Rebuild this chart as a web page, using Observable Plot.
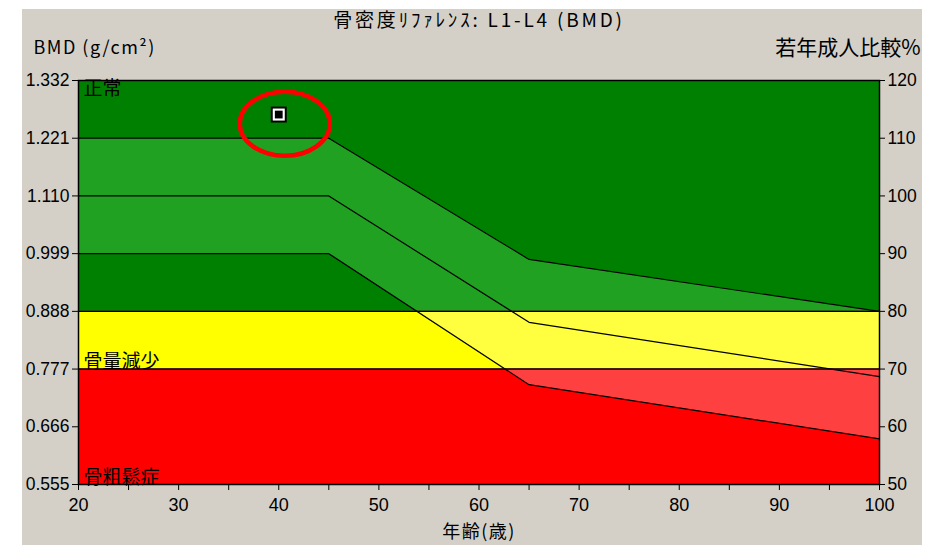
<!DOCTYPE html>
<html>
<head>
<meta charset="utf-8">
<script src="https://cdn.jsdelivr.net/npm/d3@7"></script>
<script src="https://cdn.jsdelivr.net/npm/@observablehq/plot@0.6"></script>
<style>
  html, body { margin: 0; padding: 0; background: #ffffff; }
  #wrap { position: relative; width: 935px; height: 545px; overflow: hidden; }
  #panel { position: absolute; left: 22px; top: 9px; width: 900px; height: 536px; background: #d4d0c8; }
  #chart { position: absolute; left: 0; top: 0; }
</style>
</head>
<body>
<div id="wrap"><div id="panel"></div><div id="chart"></div></div>
<script>
// ---- data ----
const titleText = "骨密度ﾘﾌｧﾚﾝｽ: L1-L4 (BMD)";
const leftLabel = "BMD (g/cm²)";
const rightLabel = "若年成人比較%";
const xLabel = "年齢(歳)";

const ages      = [20, 45, 65, 100];
const upperPct  = [110, 110, 89, 80];
const meanPct   = [100, 100, 78.1, 68.7];
const lowerPct  = [90, 90, 67.3, 57.9];

const zoneNames = ["正常", "骨量減少", "骨粗鬆症"];
const zoneLow   = [80, 70, 50];
const zoneHigh  = [120, 80, 70];
const zoneDark  = ["#008000", "#ffff00", "#ff0000"];
const zoneLight = ["#21a121", "#ffff40", "#ff4040"];
const zoneLines = [80, 70];

const pctTicks  = [50, 60, 70, 80, 90, 100, 110, 120];
const bmdTicks  = ["0.555", "0.666", "0.777", "0.888", "0.999", "1.110", "1.221", "1.332"];
const xTicks    = [20, 30, 40, 50, 60, 70, 80, 90, 100];
const xMinor    = [25, 35, 45, 55, 65, 75, 85, 95];

const patientAge = [40];
const patientPct = [114.1];
const highlightAge = [40.6];
const highlightPct = [112.5];

// ---- tables ----
const band = ages.map((a, i) => ({age: a, upper: upperPct[i], mean: meanPct[i], lower: lowerPct[i]}));
const zones = zoneNames.map((n, i) => ({name: n, lo: zoneLow[i], hi: zoneHigh[i], dark: zoneDark[i], light: zoneLight[i]}));
const patient = patientAge.map((a, i) => ({age: a, pct: patientPct[i]}));
const highlight = highlightAge.map((a, i) => ({age: a, pct: highlightPct[i]}));

const ellipseSymbol = {
  draw(ctx) {
    const rx = 45, ry = 32, k = 0.5523;
    ctx.moveTo(rx, 0);
    ctx.bezierCurveTo(rx, ry * k, rx * k, ry, 0, ry);
    ctx.bezierCurveTo(-rx * k, ry, -rx, ry * k, -rx, 0);
    ctx.bezierCurveTo(-rx, -ry * k, -rx * k, -ry, 0, -ry);
    ctx.bezierCurveTo(rx * k, -ry, rx, -ry * k, rx, 0);
    ctx.closePath();
  }
};

const jp = "'Noto Sans CJK JP', 'Noto Sans', sans-serif";

const marks = [];
zones.forEach(z => marks.push(Plot.rect([z], {y1: "lo", y2: "hi", fill: z.dark})));
zones.forEach((z, i) => marks.push(Plot.areaY(band, {x: "age", y1: "lower", y2: "upper", fill: z.light, ariaDescription: "band-" + i})));
marks.push(Plot.line(band, {x: "age", y: "upper", stroke: "black", strokeWidth: 1.2}));
marks.push(Plot.line(band, {x: "age", y: "mean", stroke: "black", strokeWidth: 1.2}));
marks.push(Plot.line(band, {x: "age", y: "lower", stroke: "black", strokeWidth: 1.2}));
marks.push(Plot.ruleY(zoneLines, {stroke: "black", strokeWidth: 1.5}));
marks.push(Plot.frame({stroke: "black", strokeWidth: 1.5}));
marks.push(Plot.axisX({ticks: xTicks, tickSize: 6, tickPadding: 8, label: null, fontSize: 18}));
marks.push(Plot.axisX({ticks: xMinor, tickSize: 6, tickFormat: () => "", label: null}));
marks.push(Plot.axisY({anchor: "left", ticks: pctTicks, tickSize: 6, tickPadding: 3, tickFormat: d => bmdTicks[pctTicks.indexOf(d)], label: null, fontSize: 17.5}));
marks.push(Plot.axisY({anchor: "right", ticks: pctTicks, tickSize: 5, tickPadding: 3, label: null, fontSize: 17.5}));
marks.push(Plot.text([zones[0]], {frameAnchor: "top-left", text: "name", textAnchor: "start", lineAnchor: "top", dx: 5, dy: 1, fill: "black", fontFamily: jp, fontSize: 19}));
marks.push(Plot.text(zones.slice(1), {x: () => 20, y: "lo", text: "name", frameAnchor: "left", textAnchor: "start", lineAnchor: "bottom", dx: 5, dy: -1, fill: "black", fontFamily: jp, fontSize: 19}));
marks.push(Plot.dot(patient, {x: "age", y: "pct", symbol: "square", r: 9, fill: "black", stroke: "none"}));
marks.push(Plot.dot(patient, {x: "age", y: "pct", symbol: "square", r: 6.8, fill: "white", stroke: "none"}));
marks.push(Plot.dot(patient, {x: "age", y: "pct", symbol: "square", r: 4.4, fill: "black", stroke: "none"}));
marks.push(Plot.dot(highlight, {x: "age", y: "pct", symbol: ellipseSymbol, r: 10, fill: "none", stroke: "#ff0000", strokeWidth: 4.5}));
marks.push(Plot.text([titleText], {frameAnchor: "top", text: d => d, lineAnchor: "middle", dy: -60, fill: "black", fontFamily: jp, fontSize: 19, ariaDescription: "title"}));
marks.push(Plot.text([leftLabel], {frameAnchor: "top-left", text: d => d, textAnchor: "start", lineAnchor: "middle", dx: -45, dy: -32, fill: "black", fontFamily: jp, fontSize: 18, ariaDescription: "spaced"}));
marks.push(Plot.text([rightLabel], {frameAnchor: "top-right", text: d => d, textAnchor: "end", lineAnchor: "middle", dx: 41, dy: -32, fill: "black", fontFamily: jp, fontSize: 21}));
marks.push(Plot.text([xLabel], {frameAnchor: "bottom", text: d => d, lineAnchor: "middle", dy: 48, fill: "black", fontFamily: jp, fontSize: 18, ariaDescription: "spaced"}));

const plot = Plot.plot({
  width: 935,
  height: 545,
  marginLeft: 78,
  marginRight: 56,
  marginTop: 80,
  marginBottom: 61,
  x: {domain: [20, 100]},
  y: {domain: [50, 120]},
  style: {background: "transparent", fontFamily: "'Liberation Sans', Arial, sans-serif", fontSize: "17px", color: "black", overflow: "visible"},
  marks
});

// clip the light bands to their zone
const xs = plot.scale("x"), ys = plot.scale("y");
const svg = d3.select(plot);
const defs = svg.insert("defs", ":first-child");
zones.forEach((z, i) => {
  const id = "zoneclip-" + i;
  const x0 = xs.apply(xs.domain[0]), x1 = xs.apply(xs.domain[1]);
  const y0 = ys.apply(z.hi), y1 = ys.apply(z.lo);
  defs.append("clipPath").attr("id", id).append("rect")
    .attr("x", x0).attr("y", y0).attr("width", x1 - x0).attr("height", y1 - y0);
  svg.selectAll(`g[aria-description="band-${i}"]`).attr("clip-path", `url(#${id})`);
});
svg.selectAll('g[aria-description="spaced"] text').attr("letter-spacing", "1.5px");
svg.selectAll('g[aria-description="title"] text').attr("letter-spacing", "2.8px");

document.getElementById("chart").appendChild(plot);
</script>
</body>
</html>
